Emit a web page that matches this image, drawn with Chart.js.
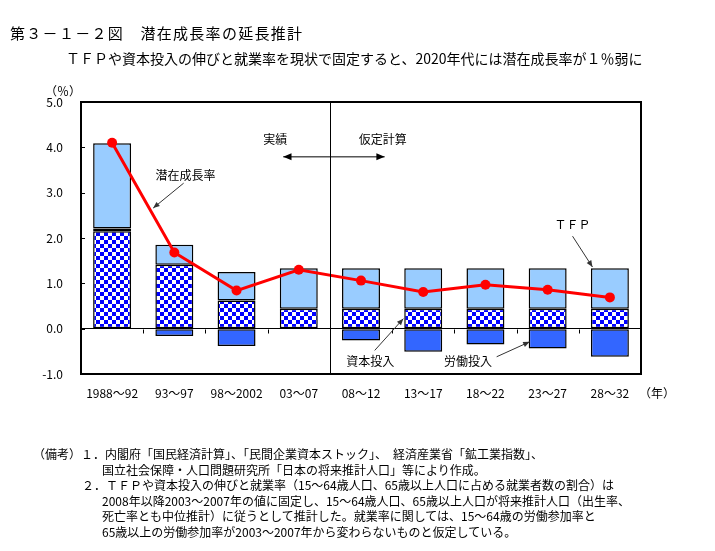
<!DOCTYPE html>
<html>
<head>
<meta charset="utf-8">
<script src="https://cdn.jsdelivr.net/npm/chart.js@4/dist/chart.umd.min.js"></script>
<style>
  body { margin: 0; background: #fff; font-family: 'Noto Sans CJK JP', sans-serif; color: #000; }
  #wrap { position: relative; width: 715px; height: 551px; overflow: hidden; }
  #chart { position: absolute; left: 0; top: 0; }
  .txt { position: absolute; white-space: nowrap; }
  #title { left: 10px; top: 22px; font-size: 15px; letter-spacing: 1.3px; }
  #sub { left: 66px; top: 48px; font-size: 14px; }
  #notes { left: 33px; top: 446px; font-size: 12px; line-height: 15.5px; }
</style>
</head>
<body>
<div id="wrap">
  <canvas id="chart" width="715" height="551"></canvas>
  <div class="txt" id="title">第３－１－２図　潜在成長率の延長推計</div>
  <div class="txt" id="sub">ＴＦＰや資本投入の伸びと就業率を現状で固定すると、2020年代には潜在成長率が１％弱に</div>
  <div class="txt" id="notes">
    <div>（備考）１．内閣府「国民経済計算」、「民間企業資本ストック」、　経済産業省「鉱工業指数」、</div>
    <div style="padding-left:69px">国立社会保障・人口問題研究所「日本の将来推計人口」等により作成。</div>
    <div style="padding-left:49px">２．ＴＦＰや資本投入の伸びと就業率（15～64歳人口、65歳以上人口に占める就業者数の割合）は</div>
    <div style="padding-left:69px">2008年以降2003～2007年の値に固定し、15～64歳人口、65歳以上人口が将来推計人口（出生率、</div>
    <div style="padding-left:69px">死亡率とも中位推計）に従うとして推計した。就業率に関しては、15～64歳の労働参加率と</div>
    <div style="padding-left:69px">65歳以上の労働参加率が2003～2007年から変わらないものと仮定している。</div>
  </div>
</div>
<script>
// データ
const categories = ['1988～92', '93～97', '98～2002', '03～07', '08～12', '13～17', '18～22', '23～27', '28～32'];
const capital = [2.15, 1.41, 0.62, 0.44, 0.44, 0.44, 0.44, 0.44, 0.44];
const labor = [0.06, -0.16, -0.38, 0, -0.26, -0.51, -0.35, -0.44, -0.62];
const tfp = [1.88, 0.44, 0.63, 0.89, 0.89, 0.89, 0.89, 0.89, 0.89];
const potential = [4.10, 1.68, 0.84, 1.30, 1.06, 0.81, 0.97, 0.86, 0.69];
const yTicks = [-1, 0, 1, 2, 3, 4, 5];

// 注釈ラベル（カテゴリ位置, 値）
const labels = [
  { text: '潜在成長率', x: 1.18, y: 3.37, from: [1.15, 3.21], to: [0.66, 2.66] },
  { text: 'ＴＦＰ', x: 7.4, y: 2.29, from: [7.4, 2.04], to: [7.72, 1.36] },
  { text: '資本投入', x: 4.15, y: -0.73, from: [4.22, -0.48], to: [4.68, 0.22] },
  { text: '労働投入', x: 5.72, y: -0.73, from: [6.18, -0.62], to: [6.71, -0.29] }
];

// 資本投入のチェック柄
function checker() {
  const c = document.createElement('canvas');
  c.width = 8; c.height = 8;
  const g = c.getContext('2d');
  g.fillStyle = '#fff'; g.fillRect(0, 0, 8, 8);
  g.fillStyle = '#0000ff';
  g.fillRect(0, 0, 4, 4); g.fillRect(4, 4, 4, 4);
  return g.createPattern(c, 'repeat');
}

function arrow(ctx, x1, y1, x2, y2, size) {
  const a = Math.atan2(y2 - y1, x2 - x1);
  ctx.beginPath(); ctx.moveTo(x1, y1); ctx.lineTo(x2, y2); ctx.stroke();
  ctx.beginPath();
  ctx.moveTo(x2, y2);
  ctx.lineTo(x2 - size * Math.cos(a - 0.4), y2 - size * Math.sin(a - 0.4));
  ctx.lineTo(x2 - size * Math.cos(a + 0.4), y2 - size * Math.sin(a + 0.4));
  ctx.closePath(); ctx.fill();
}

const extras = {
  id: 'extras',
  afterDatasetsDraw(chart) {
    const { ctx, chartArea: a, scales: { x, y } } = chart;
    ctx.save();
    ctx.strokeStyle = '#000'; ctx.fillStyle = '#000';

    // 目盛（y は内向き、x はゼロ線から下向き）
    ctx.lineWidth = 1;
    yTicks.forEach(v => {
      const py = Math.round(y.getPixelForValue(v)) + 0.5;
      ctx.beginPath(); ctx.moveTo(a.left, py); ctx.lineTo(a.left + 4, py); ctx.stroke();
    });
    const y0 = Math.round(y.getPixelForValue(0)) + 0.5;
    for (let i = 0; i < categories.length - 1; i++) {
      const px = Math.round(x.getPixelForValue(i + 0.5)) + 0.5;
      ctx.beginPath(); ctx.moveTo(px, y0); ctx.lineTo(px, y0 + 4); ctx.stroke();
    }

    // 実績／仮定計算の区切り
    const div = Math.round(x.getPixelForValue(3.5)) + 0.5;
    ctx.beginPath(); ctx.moveTo(div, a.top); ctx.lineTo(div, a.bottom); ctx.stroke();
    const ay = y.getPixelForValue(3.79);
    arrow(ctx, div, ay, x.getPixelForValue(2.75), ay, 9);
    arrow(ctx, div, ay, x.getPixelForValue(4.38), ay, 9);

    ctx.font = "12px 'Noto Sans CJK JP'";
    ctx.textAlign = 'center'; ctx.textBaseline = 'middle';
    ctx.fillText('実績', x.getPixelForValue(2.62), y.getPixelForValue(4.18));
    ctx.fillText('仮定計算', x.getPixelForValue(4.35), y.getPixelForValue(4.18));

    labels.forEach(l => {
      ctx.fillStyle = '#000';
      ctx.fillText(l.text, x.getPixelForValue(l.x), y.getPixelForValue(l.y));
      ctx.strokeStyle = '#333'; ctx.fillStyle = '#333';
      arrow(ctx, x.getPixelForValue(l.from[0]), y.getPixelForValue(l.from[1]),
        x.getPixelForValue(l.to[0]), y.getPixelForValue(l.to[1]), 7);
    });

    // 枠
    ctx.strokeStyle = '#000'; ctx.lineWidth = 2;
    ctx.strokeRect(a.left, a.top, a.right - a.left, a.bottom - a.top);

    // 単位
    ctx.fillStyle = '#000';
    ctx.textAlign = 'left';
    ctx.fillText('（％）', a.left - 36, a.top - 11);
    ctx.fillText('（年）', a.right - 2, a.bottom + 19);
    ctx.restore();
  }
};

const ctx = document.getElementById('chart').getContext('2d');
Chart.defaults.font.family = "'Noto Sans CJK JP', sans-serif";
Chart.defaults.font.size = 12;
Chart.defaults.color = '#000';

new Chart(ctx, {
  type: 'bar',
  data: {
    labels: categories,
    datasets: [
      { label: '資本投入', data: capital, backgroundColor: checker(), borderColor: '#000', borderWidth: 1.5, borderSkipped: false, stack: 'bars', order: 1 },
      { label: '労働投入', data: labor, backgroundColor: '#3366ff', borderColor: '#000', borderWidth: 1.5, borderSkipped: false, stack: 'bars', order: 1 },
      { label: 'ＴＦＰ', data: tfp, backgroundColor: '#99ccff', borderColor: '#000', borderWidth: 1.5, borderSkipped: false, stack: 'bars', order: 1 },
      { type: 'line', label: '潜在成長率', data: potential, borderColor: '#ff0000', borderWidth: 3,
        pointRadius: 5, pointBackgroundColor: '#ff0000', pointBorderWidth: 0, tension: 0, stack: 'line', order: 0 }
    ]
  },
  options: {
    responsive: false,
    animation: false,
    layout: { padding: { left: 36, top: 102, right: 74, bottom: 137 } },
    datasets: { bar: { categoryPercentage: 1, barPercentage: 0.61 } },
    plugins: { legend: { display: false }, tooltip: { enabled: false } },
    scales: {
      x: {
        stacked: true,
        grid: { display: false },
        border: { display: false },
        ticks: { padding: 4, maxRotation: 0, autoSkip: false },
        afterFit: s => { s.height = 40; }
      },
      y: {
        stacked: true,
        min: -1, max: 5,
        afterBuildTicks: s => { s.ticks = yTicks.map(v => ({ value: v })); },
        grid: { drawTicks: false, color: c => c.tick && c.tick.value === 0 ? '#000' : 'rgba(0,0,0,0)', lineWidth: 1 },
        border: { display: false },
        ticks: { padding: 18, callback: v => Number(v).toFixed(1) },
        afterFit: s => { s.width = 45; }
      }
    }
  },
  plugins: [extras]
});
</script>
</body>
</html>
